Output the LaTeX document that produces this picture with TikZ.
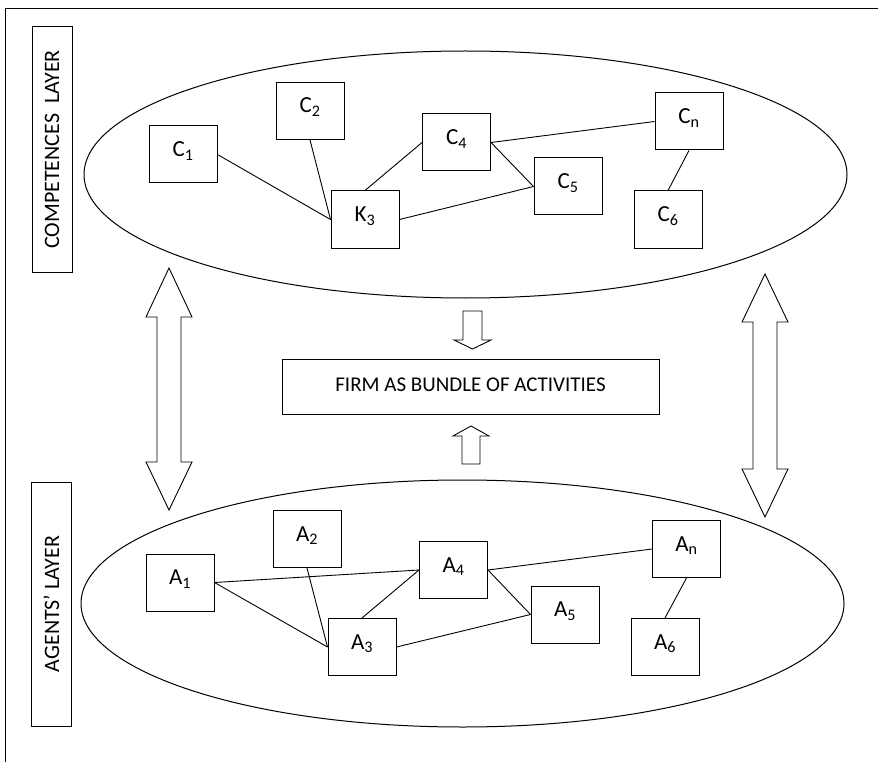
\documentclass[tikz,border=0pt]{standalone}
\usepackage{fontspec}
\setmainfont{Carlito}
\usepackage{tikz}
\definecolor{linecolor}{RGB}{0,0,0}

\tikzset{
  unitbox/.style={draw=linecolor, line width=1pt, minimum width=68pt, minimum height=57pt,
    inner sep=0pt, text height=15pt, text depth=11pt, font=\fontsize{23}{25}\selectfont},
  layerbox/.style={draw=linecolor, line width=1pt, rotate=90, inner sep=0pt,
    minimum height=40pt, font=\fontsize{22}{24}\selectfont},
  link/.style={linecolor, line width=0.9pt},
  blockarrow/.style={draw=linecolor, line width=0.9pt, line join=miter}
}

\begin{document}
\begin{tikzpicture}[x=1pt,y=-1pt]
            \useasboundingbox (0,0) rectangle (878,762);
            \draw[linecolor, line width=1pt] (5,762) -- (5,9) -- (878,9);

            % layers
            \node[layerbox, minimum width=245pt] (complayer) at (52,149.5) {COMPETENCES\ \ LAYER};
            \node[layerbox, minimum width=244pt] (agentlayer) at (51.5,604) {AGENTS’ LAYER};
            \draw[link, line width=1pt] (465.5,174.5) ellipse [x radius=381.5, y radius=123.5];
            \draw[link, line width=1pt] (462.5,603.5) ellipse [x radius=381.5, y radius=123.5];

            % competences
            \node[unitbox] (C1) at (183,154.5) {C\textsubscript{1}};
            \node[unitbox] (C2) at (310,111) {C\textsubscript{2}};
            \node[unitbox] (K3) at (365,219.5) {K\textsubscript{3}};
            \node[unitbox] (C4) at (456.5,142.5) {C\textsubscript{4}};
            \node[unitbox] (C5) at (568,186.5) {C\textsubscript{5}};
            \node[unitbox] (Cn) at (689,121.5) {C\textsubscript{n}};
            \node[unitbox] (C6) at (668,219.5) {C\textsubscript{6}};

            % agents
            \node[unitbox] (A1) at (180,582.5) {A\textsubscript{1}};
            \node[unitbox] (A2) at (307,539) {A\textsubscript{2}};
            \node[unitbox] (A3) at (362,647) {A\textsubscript{3}};
            \node[unitbox] (A4) at (453.5,570) {A\textsubscript{4}};
            \node[unitbox] (A5) at (565,614.5) {A\textsubscript{5}};
            \node[unitbox] (An) at (686.5,549) {A\textsubscript{n}};
            \node[unitbox] (A6) at (665,647) {A\textsubscript{6}};

            \foreach \a/\b in {C1.east/K3.west, C2.south/K3.west, K3.north/C4.west, K3.east/C5.west,
                               C4.east/C5.west, C4.east/Cn.west, Cn.south/C6.north,
                               A1.east/A4.west, A1.east/A3.west, A2.south/A3.west, A3.north/A4.west,
                               A3.east/A5.west, A4.east/A5.west, A4.east/An.west, An.south/A6.north}
                \draw[link] (\a) -- (\b);

            % firm
            \node[draw=linecolor, line width=1pt, minimum width=377pt, minimum height=55pt, inner sep=0pt,
                  text height=16pt, text depth=6pt, font=\fontsize{21}{24}\selectfont]
                  (firm) at (470.5,386.5) {FIRM AS BUNDLE OF ACTIVITIES};

            % block arrows
            \draw[blockarrow] (169,268) -- (192,317) -- (181,317) -- (181,462) -- (192,462) -- (169,510)
                -- (146,462) -- (157,462) -- (157,317) -- (146,317) -- cycle;
            \draw[blockarrow] (765,274) -- (788,322) -- (777,322) -- (777,469) -- (788,469) -- (765,517)
                -- (742,469) -- (753,469) -- (753,322) -- (742,322) -- cycle;
            \draw[blockarrow] (463,311) -- (482,311) -- (482,340) -- (491,340) -- (472.5,349)
                -- (454,340) -- (463,340) -- cycle;
            \draw[blockarrow] (471,426) -- (489,436) -- (480,436) -- (480,464) -- (462,464)
                -- (462,436) -- (453,436) -- cycle;
        \end{tikzpicture}
\end{document}
